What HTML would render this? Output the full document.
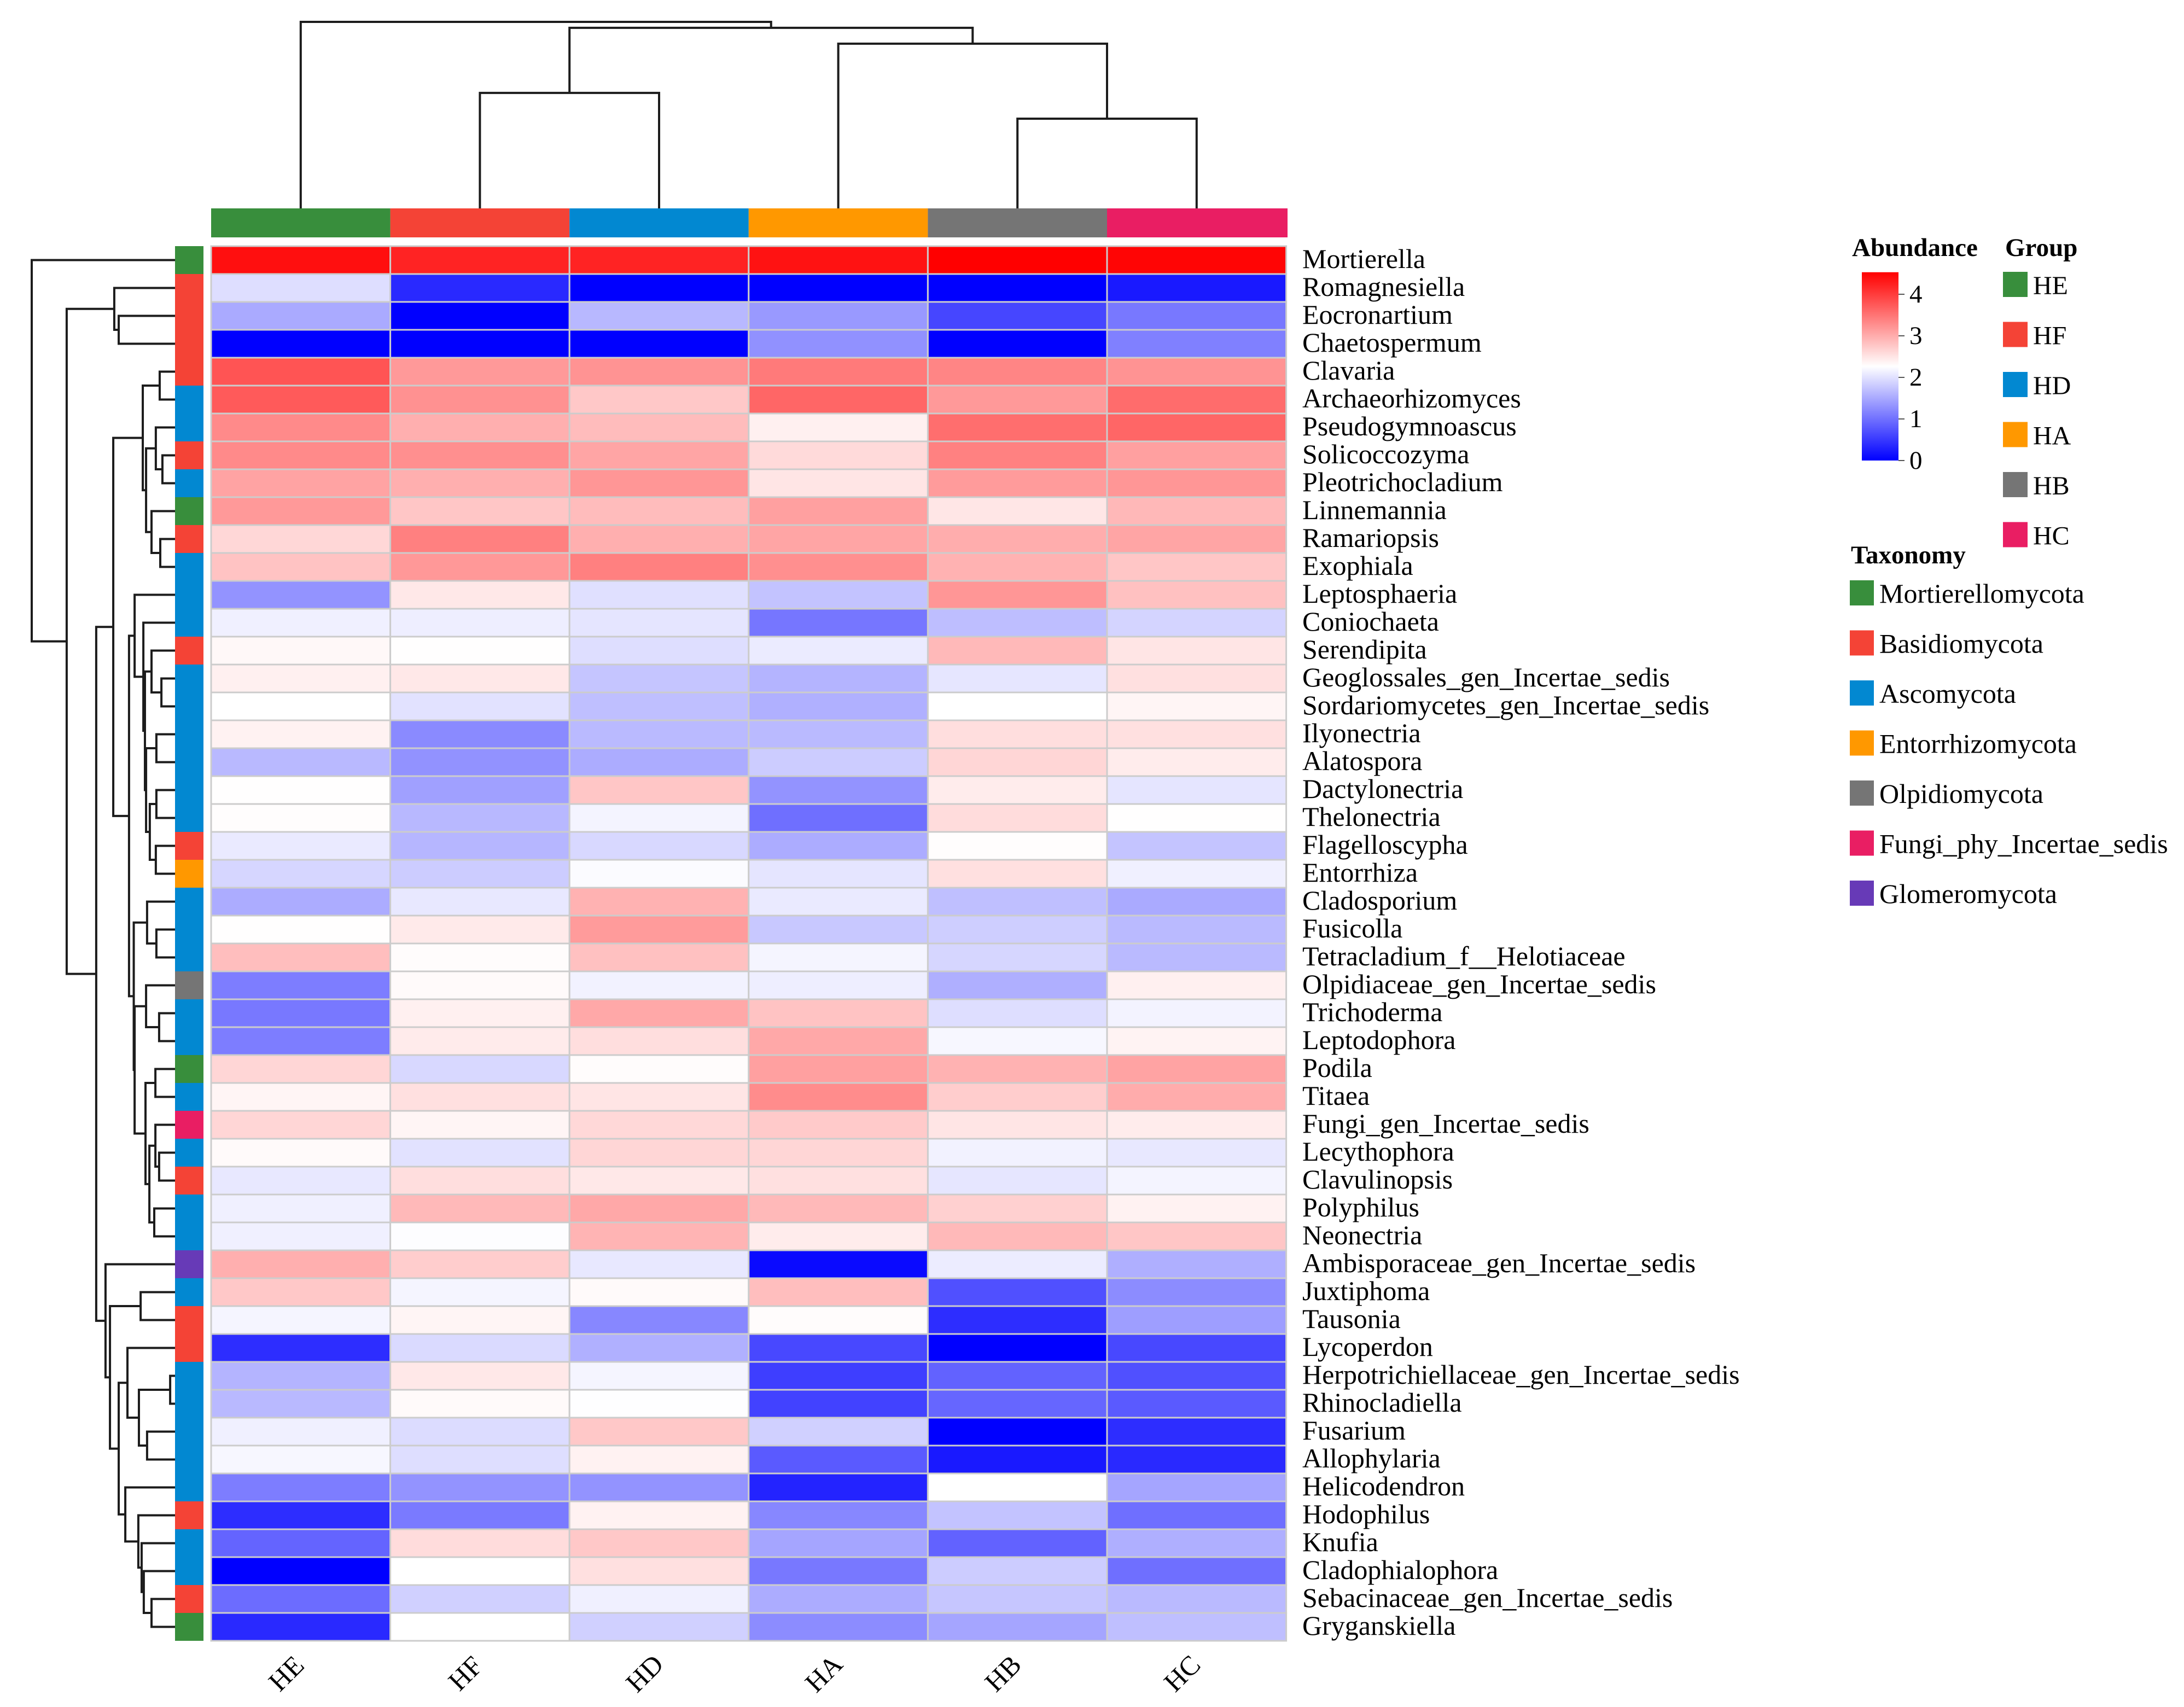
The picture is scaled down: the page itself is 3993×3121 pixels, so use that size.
<!DOCTYPE html>
<html lang="en">
<head>
<meta charset="utf-8">
<title>Fungal genus abundance heatmap</title>
<style>
html,body{margin:0;padding:0;background:#fff;}
svg{display:block;font-family:"Liberation Serif",serif;}
</style>
</head>
<body>
<svg id="chart" xmlns="http://www.w3.org/2000/svg" width="3993" height="3121" viewBox="0 0 3993 3121">
<defs>
<linearGradient id="abundance-gradient" x1="0" y1="1" x2="0" y2="0">
<stop offset="0" stop-color="#0000ff"/>
<stop offset="0.5" stop-color="#ffffff"/>
<stop offset="1" stop-color="#ff0000"/>
</linearGradient>
</defs>
<rect width="3993" height="3121" fill="#ffffff"/>
<g id="col-dendro"></g>
<g id="row-dendro"></g>
<g id="col-annot"></g>
<g id="row-annot"></g>
<g id="cells"></g>
<g id="row-labels"></g>
<g id="col-labels"></g>
<g id="colorbar"></g>
<g id="group-legend"></g>
<g id="tax-legend"></g>
</svg>
<script>
const sampleNames = ["HE","HF","HD","HA","HB","HC"];
const genusNames = ["Mortierella","Romagnesiella","Eocronartium","Chaetospermum","Clavaria","Archaeorhizomyces","Pseudogymnoascus","Solicoccozyma","Pleotrichocladium","Linnemannia","Ramariopsis","Exophiala","Leptosphaeria","Coniochaeta","Serendipita","Geoglossales_gen_Incertae_sedis","Sordariomycetes_gen_Incertae_sedis","Ilyonectria","Alatospora","Dactylonectria","Thelonectria","Flagelloscypha","Entorrhiza","Cladosporium","Fusicolla","Tetracladium_f__Helotiaceae","Olpidiaceae_gen_Incertae_sedis","Trichoderma","Leptodophora","Podila","Titaea","Fungi_gen_Incertae_sedis","Lecythophora","Clavulinopsis","Polyphilus","Neonectria","Ambisporaceae_gen_Incertae_sedis","Juxtiphoma","Tausonia","Lycoperdon","Herpotrichiellaceae_gen_Incertae_sedis","Rhinocladiella","Fusarium","Allophylaria","Helicodendron","Hodophilus","Knufia","Cladophialophora","Sebacinaceae_gen_Incertae_sedis","Gryganskiella"];
const abundance = [
[4.40,4.22,4.22,4.37,4.53,4.49],
[1.97,0.36,0,0,0,0.22],
[1.51,0,1.63,1.36,0.62,1.07],
[0,0,0,1.29,0,1.14],
[3.78,3.17,3.22,3.45,3.35,3.22],
[3.73,3.24,2.75,3.62,3.17,3.57],
[3.30,2.98,2.86,2.40,3.55,3.62],
[3.30,3.26,3.06,2.59,3.38,3.11],
[3.08,2.98,3.20,2.50,3.15,3.20],
[3.17,2.77,2.86,3.11,2.49,2.90],
[2.62,3.39,2.98,3.06,2.99,3.06],
[2.80,3.18,3.39,3.26,2.95,2.77],
[1.31,2.47,1.99,1.73,3.20,2.82],
[2.13,2.11,2.03,1.05,1.69,1.88],
[2.33,2.27,1.97,2.09,2.89,2.50],
[2.40,2.47,1.75,1.60,2.04,2.54],
[2.265,2.01,1.70,1.56,2.265,2.35],
[2.38,1.23,1.65,1.65,2.56,2.54],
[1.64,1.30,1.53,1.81,2.63,2.43],
[2.27,1.42,2.77,1.31,2.43,2.03],
[2.28,1.63,2.17,0.99,2.58,2.27],
[2.08,1.62,1.92,1.53,2.28,1.74],
[1.90,1.81,2.23,2.03,2.54,2.13],
[1.53,2.06,2.95,2.08,1.70,1.51],
[2.27,2.45,3.15,1.78,1.83,1.65],
[2.84,2.29,2.82,2.18,1.90,1.65],
[1.11,2.31,2.15,2.11,1.55,2.40],
[1.07,2.40,3.04,2.80,1.97,2.16],
[1.11,2.44,2.56,3.04,2.19,2.37],
[2.63,1.92,2.29,3.11,2.95,3.08],
[2.35,2.54,2.50,3.29,2.71,3.00],
[2.63,2.35,2.61,2.74,2.50,2.43],
[2.31,2.01,2.63,2.63,2.15,2.06],
[2.06,2.56,2.47,2.54,2.04,2.17],
[2.13,2.89,3.04,2.89,2.68,2.38],
[2.13,2.25,2.93,2.43,2.89,2.77],
[2.98,2.71,2.06,0.09,2.10,1.55],
[2.75,2.18,2.31,2.84,0.71,1.24],
[2.18,2.35,1.20,2.29,0.40,1.40],
[0.40,1.94,1.56,0.64,0,0.64],
[1.60,2.47,2.18,0.55,0.87,0.71],
[1.64,2.31,2.26,0.59,0.91,0.80],
[2.13,1.95,2.75,1.85,0,0.40],
[2.19,1.97,2.38,0.80,0.22,0.36],
[1.11,1.31,1.31,0.31,2.265,1.47],
[0.40,1.08,2.38,1.20,1.73,0.99],
[0.89,2.58,2.75,1.47,0.87,1.55],
[0,2.265,2.54,1.07,1.81,0.99],
[0.96,1.85,2.13,1.53,1.76,1.65],
[0.36,2.265,1.85,1.24,1.47,1.70]
];
const groupColors = ["#388E3C","#F44336","#0288D1","#FF9800","#757575","#E91E63"];
const taxonomyNames = ["Mortierellomycota","Basidiomycota","Ascomycota","Entorrhizomycota","Olpidiomycota","Fungi_phy_Incertae_sedis","Glomeromycota"];
const taxonomyColors = ["#388E3C","#F44336","#0288D1","#FF9800","#757575","#E91E63","#673AB7"];
const rowTaxonomy = [0,1,1,1,1,2,2,1,2,0,1,2,2,2,1,2,2,2,2,2,2,1,3,2,2,2,4,2,2,0,2,5,2,1,2,2,6,2,1,1,2,2,2,2,2,1,2,2,1,0];
const colorbarTicks = [0,1,2,3,4];
const abundanceMax = 4.53;
/* Dendrograms: [merge distance, left child, right child]; a bare number is a leaf index */
const rowTree = [100, 0,
  [75.6,
    [42.4, 1, [39.3, 2, 3]],
    [55,
      [43.1,
        [22.5,
          [10.7, 4, 5],
          [20.2, [13.4, 6, [8.8, 7, 8]], [16.4, 9, [10.3, 10, 11]]]
        ],
        [32.1,
          [28.2, 12,
            [22.1, 13,
              [21,
                [16.4, 14, [9.5, 15, 16]],
                [20.2, [13, 17, 18], [17.6, [13, 19, 20], [13.4, 21, 22]]]
              ]
            ]
          ],
          [28.8,
            [19.5, 23, [13, 24, 25]],
            [28.2,
              [20.2, 26, [11.1, 27, 28]],
              [20.6,
                [13.7, 29, 30],
                [17.9, [13.7, 31, [11.1, 32, 33]], [14.5, 34, 35]]
              ]
            ]
          ]
        ]
      ],
      [48.5, 36,
        [45.4,
          [24, 37, 38],
          [39.3,
            [33.2, 39, [25.2, [3.4, 40, 41], [19.5, 42, 43]]],
            [34.7, 44, [25.6, 45, [23.3, 46, [21.8, 47, [16.4, 48, 49]]]]]
          ]
        ]
      ]
    ]
  ]
];
const colTree = [100, 0,
  [96.8,
    [61.9, 1, 2],
    [88.3, 3, [48.1, 4, 5]]
  ]
];

const NS = "http://www.w3.org/2000/svg";
const heatLeft = 386, heatTop = 450, cellW = 327.6, cellH = 51;
const xCol = j => heatLeft + cellW * j;
const yRow = i => heatTop + cellH * i;
const rowDistX = d => 320 - d * 2.62;
const colDistY = d => 381 - d * 3.41;
const barY = v => 842 - 76 * v;

function make(tag, attrs, parentId, text) {
  const el = document.createElementNS(NS, tag);
  for (const k in attrs) el.setAttribute(k, attrs[k]);
  if (text !== undefined) el.textContent = text;
  document.getElementById(parentId).appendChild(el);
  return el;
}
function abundanceColor(v) {
  const mid = abundanceMax / 2;
  const clamped = Math.max(0, Math.min(abundanceMax, v));
  if (clamped <= mid) {
    const c = Math.round(255 * clamped / mid);
    return "rgb(" + c + "," + c + ",255)";
  }
  const c = Math.round(255 * (1 - (clamped - mid) / mid));
  return "rgb(255," + c + "," + c + ")";
}

/* heatmap cells */
abundance.forEach((row, i) => {
  row.forEach((v, j) => {
    const el = make("rect", {x: xCol(j), y: yRow(i), width: cellW, height: cellH, fill: abundanceColor(v), stroke: "#cccccc", "stroke-width": 3}, "cells");
    
    
  });
});

/* annotations */
groupColors.forEach((c, j) => {
  const el = make("rect", {x: xCol(j), y: 381, width: j === groupColors.length - 1 ? cellW + 2.4 : cellW, height: 53, fill: c}, "col-annot");
  
  
});
rowTaxonomy.forEach((t, i) => {
  const el = make("rect", {x: 320, y: yRow(i), width: 52, height: cellH, fill: taxonomyColors[t]}, "row-annot");
  
  
});

/* labels */
genusNames.forEach((n, i) => {
  const el = make("text", {x: 2381, y: yRow(i) + 40, "font-size": 50, fill: "#000"}, "row-labels", n);
  
  
});
sampleNames.forEach((n, j) => {
  const cx = xCol(j) + cellW / 2 - 26, cy = 3060;
  const el = make("text", {x: cx, y: cy + 16, "font-size": 50, fill: "#000", "text-anchor": "middle", transform: "rotate(-45 " + cx + " " + cy + ")"}, "col-labels", n);
  
  
});

/* dendrograms */
function drawRowNode(node) {
  if (typeof node === "number") return {x: 320, y: yRow(node) + cellH / 2};
  const a = drawRowNode(node[1]), b = drawRowNode(node[2]);
  const x = rowDistX(node[0]);
  const d = "M" + a.x + " " + a.y + "H" + x + "V" + b.y + "H" + b.x;
  const el = make("path", {d: d, fill: "none", stroke: "#1c1c1c", "stroke-width": 4}, "row-dendro");
  
  
  return {x: x, y: (a.y + b.y) / 2};
}
function drawColNode(node) {
  if (typeof node === "number") return {x: xCol(node) + cellW / 2, y: 381};
  const a = drawColNode(node[1]), b = drawColNode(node[2]);
  const y = colDistY(node[0]);
  const d = "M" + a.x + " " + a.y + "V" + y + "H" + b.x + "V" + b.y;
  const el = make("path", {d: d, fill: "none", stroke: "#1c1c1c", "stroke-width": 4}, "col-dendro");
  
  
  return {x: (a.x + b.x) / 2, y: y};
}
drawRowNode(rowTree);
drawColNode(colTree);

/* colorbar legend */
const cbTitle = make("text", {x: 3386, y: 468, "font-size": 47, "font-weight": "bold", fill: "#000"}, "colorbar", "Abundance");


const cbRect = make("rect", {x: 3404, y: barY(abundanceMax), width: 67, height: barY(0) - barY(abundanceMax), fill: "url(#abundance-gradient)"}, "colorbar");


colorbarTicks.forEach(t => {
  const tick = make("line", {x1: 3471, x2: 3482, y1: barY(t), y2: barY(t), stroke: "#555", "stroke-width": 2}, "colorbar");
  
  
  const lab = make("text", {x: 3491, y: barY(t) + 15, "font-size": 47, fill: "#000"}, "colorbar", String(t));
  
  
});

/* group legend */
const gTitle = make("text", {x: 3666, y: 468, "font-size": 47, "font-weight": "bold", fill: "#000"}, "group-legend", "Group");


sampleNames.forEach((n, k) => {
  const sw = make("rect", {x: 3662, y: 497 + 91.5 * k, width: 45, height: 46, fill: groupColors[k]}, "group-legend");
  
  
  const lab = make("text", {x: 3717, y: 538 + 91.5 * k, "font-size": 48, fill: "#000"}, "group-legend", n);
  
  
});

/* taxonomy legend */
const tTitle = make("text", {x: 3384, y: 1030, "font-size": 47, "font-weight": "bold", fill: "#000"}, "tax-legend", "Taxonomy");


taxonomyNames.forEach((n, k) => {
  const sw = make("rect", {x: 3382, y: 1061 + 91.5 * k, width: 44, height: 46, fill: taxonomyColors[k]}, "tax-legend");
  
  
  const lab = make("text", {x: 3436, y: 1102 + 91.5 * k, "font-size": 50, fill: "#000"}, "tax-legend", n);
  
  
});
</script>
</body>
</html>
